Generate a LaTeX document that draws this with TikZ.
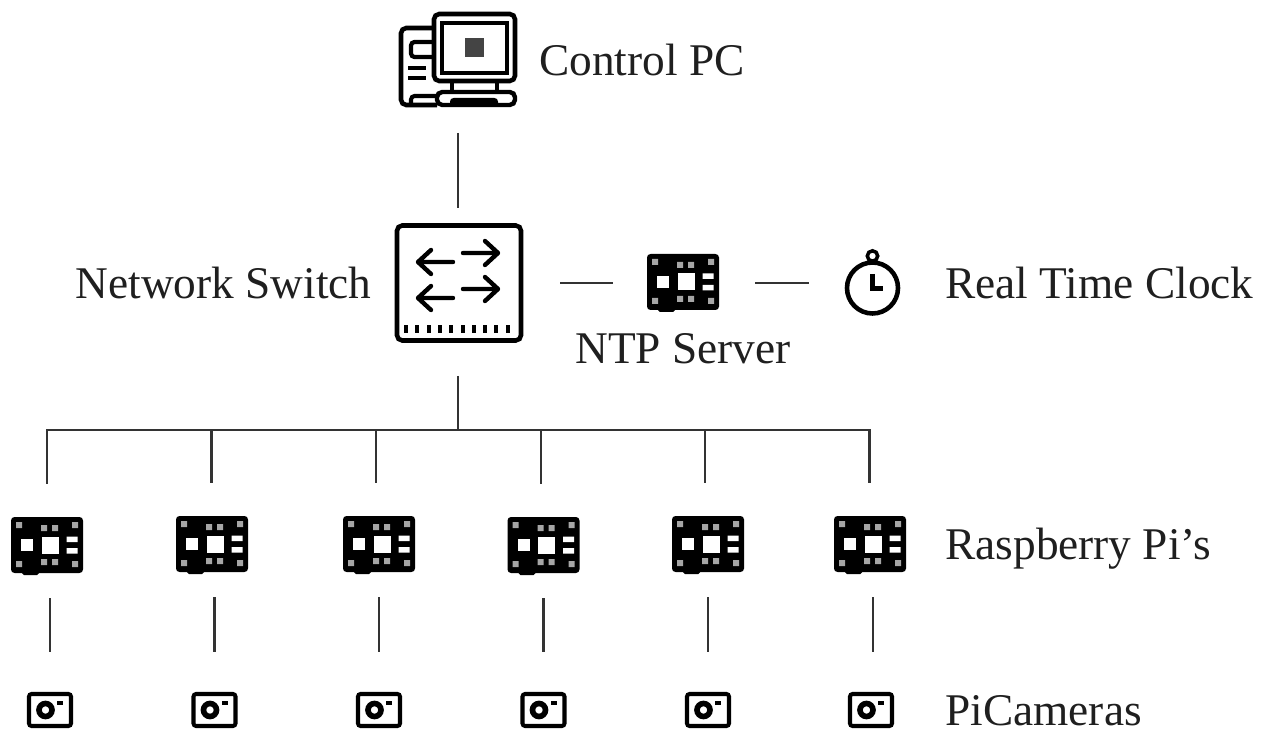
\documentclass[tikz,border=0pt]{standalone}
\usepackage{fontspec}
\usepackage{xcolor}
\setmainfont{Liberation Serif}
\definecolor{inkgray}{HTML}{444444}
\tikzset{
    wire/.style={line width=1.25pt,color=black!80},
    label text/.style={inner sep=0pt,color=black!88,font=\fontsize{25.8}{30}\selectfont},
    pcbox/.style={inner sep=0pt,minimum width=2.36cm,minimum height=1.9cm},
    switchbox/.style={inner sep=0pt,minimum width=2.56cm,minimum height=2.38cm},
    pibox/.style={inner sep=0pt,minimum width=1.44cm,minimum height=1.12cm},
    clockbox/.style={inner sep=0pt,minimum width=1.1cm,minimum height=1.1cm},
    cambox/.style={inner sep=0pt,minimum width=0.92cm,minimum height=0.72cm},
    rpi/.pic={
        \fill[black,rounded corners=2pt] (-36,-28) rectangle (36,28);
        \fill[black,rounded corners=1pt] (-25,20) rectangle (-8,30);
        \fill[white!65!black] (-31,-23) rectangle (-25,-17) (25,-23) rectangle (31,-17);
        \fill[white!65!black] (-31,16) rectangle (-25,22) (25,16) rectangle (31,22);
        \fill[white!65!black] (-6,-20) rectangle (0,-14) (5,-20) rectangle (11,-14);
        \fill[white!65!black] (-6,14) rectangle (0,20) (5,14) rectangle (11,20);
        \fill[white] (-5.5,-8.5) rectangle (11.5,8.5);
        \fill[white] (-26,-6) rectangle (-14,6);
        \fill[white] (19.5,-8.5) rectangle (30.5,-3) (19.5,3) rectangle (30.5,8.5);
    },
    camera/.pic={
        \draw[line width=2.3pt,rounded corners=1.5pt] (-21,-16) rectangle (21,16);
        \draw[line width=3.2pt] (-4.5,0) circle (6.5);
        \fill (7,-9) rectangle (13,-5.5);
    },
    clockface/.pic={
        \draw[line width=2.6pt] (0,5) circle (25.5);
        \draw[line width=2pt] (0,-27) circle (5.2);
        \draw[line width=3pt] (0,-9) -- (0,5.5) -- (10,5.5);
    },
    switchface/.pic={
        \draw[line width=2.6pt,rounded corners=3pt] (-62,-57.5) rectangle (62,57.5);
        \draw[line width=2.5pt,line cap=round,line join=round] (4,-30) -- (39,-30) (26,-42) -- (39,-30) -- (26,-18);
        \draw[line width=2.5pt,line cap=round,line join=round] (4,6) -- (39,6) (26,-6) -- (39,6) -- (26,18);
        \draw[line width=2.5pt,line cap=round,line join=round] (-6,-21) -- (-41,-21) (-28,-33) -- (-41,-21) -- (-28,-9);
        \draw[line width=2.5pt,line cap=round,line join=round] (-6,15) -- (-41,15) (-28,3) -- (-41,15) -- (-28,27);
        \foreach \d in {0,...,9}
            \fill ({-55+11.3*\d},42) rectangle ++(4,8);
    },
    pcface/.pic={
        \draw[line width=2.6pt,rounded corners=3pt] (-24,-46) rectangle (57,21);
        \draw[line width=2.5pt] (-16,-37) rectangle (49,13);
        \fill[inkgray] (7,-22) rectangle (26,-3);
        \draw[line width=2.3pt] (-6,21) -- (-6,32) (39,21) -- (39,32);
        \draw[line width=2.5pt,rounded corners=3pt] (-21,32) rectangle (57,45);
        \fill[rounded corners=2pt] (-8,38) rectangle (40,47);
        \draw[line width=2.6pt,rounded corners=3pt] (-24,-32) -- (-57,-32) -- (-57,45) -- (-21,45);
        \draw[line width=2.4pt,rounded corners=2pt] (-24,-18) -- (-47,-18) -- (-47,-3) -- (-24,-3);
        \draw[line width=2.2pt] (-50,8) -- (-32,8) (-50,18) -- (-32,18);
        \draw[line width=2.3pt,rounded corners=2pt] (-21,36) -- (-47,36) -- (-47,45);
    },
}
\begin{document}
\begin{tikzpicture}[x=0.02cm,y=-0.02cm]
    \useasboundingbox (0,0) rectangle (1272,733);

    % top of the tree
    \node[pcbox] (pc) at (458,60) {}; \pic at (pc) {pcface};
    \node[switchbox] (switch) at (459,283) {}; \pic at (switch) {switchface};
    \node[pibox] (ntp) at (683,282) {}; \pic at (ntp) {rpi};
    \node[clockbox] (clock) at (872.5,283) {}; \pic at (clock) {clockface};

    % row of boards
    \node[pibox] (pi1) at (47,545) {}; \pic at (pi1) {rpi};
    \node[pibox] (pi2) at (212,544) {}; \pic at (pi2) {rpi};
    \node[pibox] (pi3) at (379,544) {}; \pic at (pi3) {rpi};
    \node[pibox] (pi4) at (543.5,545) {}; \pic at (pi4) {rpi};
    \node[pibox] (pi5) at (708,544) {}; \pic at (pi5) {rpi};
    \node[pibox] (pi6) at (870,544) {}; \pic at (pi6) {rpi};

    % row of cameras
    \node[cambox] (cam1) at (50,710) {}; \pic at (cam1) {camera};
    \node[cambox] (cam2) at (214.5,710) {}; \pic at (cam2) {camera};
    \node[cambox] (cam3) at (379,710) {}; \pic at (cam3) {camera};
    \node[cambox] (cam4) at (543.5,710) {}; \pic at (cam4) {camera};
    \node[cambox] (cam5) at (708,710) {}; \pic at (cam5) {camera};
    \node[cambox] (cam6) at (871,710) {}; \pic at (cam6) {camera};

    % labels
    \node[label text,anchor=base west] (pclabel) at (539,76) {Control PC};
    \node[label text,anchor=base east] (switchlabel) at (372,298.5) {Network Switch};
    \node[label text,anchor=base] (ntplabel) at (683,363) {NTP Server};
    \node[label text,anchor=base west] (clocklabel) at (945,298.5) {Real Time Clock};
    \node[label text,anchor=base west] (pilabel) at (945,559) {Raspberry Pi’s};
    \node[label text,anchor=base west] (camlabel) at (945,725) {PiCameras};

    % wires
    \coordinate (bus) at (458,430);
    \coordinate (drop1) at (47,430);
    \coordinate (drop2) at (211.5,430);
    \coordinate (drop3) at (376,430);
    \coordinate (drop4) at (541,430);
    \coordinate (drop5) at (705,430);
    \coordinate (drop6) at (869.5,430);

    \draw[wire,shorten <=0.5cm,shorten >=0.3cm] (pc.south) -- (pc.south |- switch.north);
    \draw[wire,shorten <=0.74cm,shorten >=0.68cm] (switch.east) -- (switch.east -| ntp.west);
    \draw[wire,shorten <=0.72cm,shorten >=0.72cm] (ntp.east |- switch.east) -- (clock.west);
    \draw[wire,shorten <=0.66cm] (switch.south -| bus) -- (bus);
    \draw[wire,line join=miter] (drop1 |- pi1.north) ++(0,-33) -- (drop1) -- (drop6) -- ++(0,53);

    \draw[wire,shorten >=0.66cm] (drop2) -- (drop2 |- pi2.north);
    \draw[wire,shorten >=0.66cm] (drop3) -- (drop3 |- pi3.north);
    \draw[wire,shorten >=0.66cm] (drop4) -- (drop4 |- pi4.north);
    \draw[wire,shorten >=0.66cm] (drop5) -- (drop5 |- pi5.north);

    \draw[wire,shorten <=0.5cm,shorten >=0.8cm] (cam1 |- pi1.south) -- (cam1.north);
    \draw[wire,shorten <=0.5cm,shorten >=0.8cm] (cam2 |- pi2.south) -- (cam2.north);
    \draw[wire,shorten <=0.5cm,shorten >=0.8cm] (cam3 |- pi3.south) -- (cam3.north);
    \draw[wire,shorten <=0.5cm,shorten >=0.8cm] (cam4 |- pi4.south) -- (cam4.north);
    \draw[wire,shorten <=0.5cm,shorten >=0.8cm] (cam5 |- pi5.south) -- (cam5.north);
    \draw[wire,shorten <=0.5cm,shorten >=0.8cm] ([xshift=0.04cm]cam6 |- pi6.south) -- ([xshift=0.04cm]cam6.north);
\end{tikzpicture}
\end{document}
